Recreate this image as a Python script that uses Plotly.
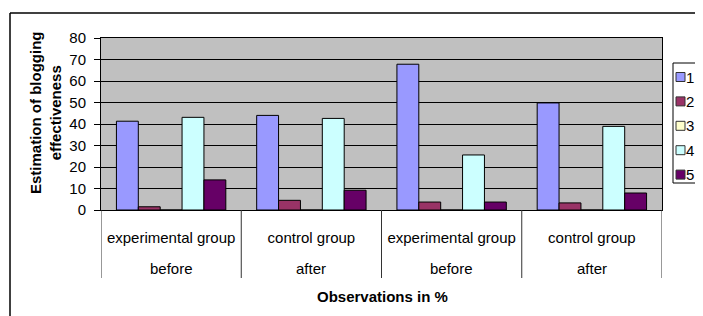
import plotly.graph_objects as go

# ---- data ----
groups = ["experimental group", "control group", "experimental group", "control group"]
phases = ["before", "after", "before", "after"]
series_names = ["1", "2", "3", "4", "5"]
s1 = [41.3, 44.0, 67.8, 49.8]
s2 = [1.5, 4.5, 3.7, 3.3]
s3 = [0, 0, 0, 0]
s4 = [43.1, 42.6, 25.6, 38.9]
s5 = [14.0, 9.2, 3.7, 7.9]
series_values = [s1, s2, s3, s4, s5]
colors = ["#9999FF", "#993366", "#FFFFCC", "#CCFFFF", "#660066"]

y_title = "Estimation of blogging<br>effectiveness"
x_title = "Observations in %"

OFF = 8  # page body margin in the browser
W, H = 703 - OFF, 316 - OFF
L, R, T, B = 101 - OFF, 662 - OFF, 38 - OFF, 210 - OFF  # plot area in figure pixels


def px(x):
    # x given in screenshot pixels
    return (x - OFF - L) / (R - L)


def py(y):
    # y given in screenshot pixels
    return (B - (y - OFF)) / (B - T)


FONT = "Liberation Sans, Arial, sans-serif"
xs = list(range(len(groups)))

fig = go.Figure()
for name, vals, col in zip(series_names, series_values, colors):
    fig.add_trace(go.Bar(
        x=xs, y=vals, name=name,
        marker=dict(color=col, line=dict(color="#000000", width=1)),
        showlegend=False,
    ))

shapes = []
# group dividers below the axis
for i in range(len(groups) + 1):
    shapes.append(dict(type="line", xref="x", yref="paper",
                       x0=i - 0.5, x1=i - 0.5, y0=0, y1=py(278),
                       line=dict(color="#333333", width=1)))
# outer chart border (top and left visible)
shapes.append(dict(type="line", xref="paper", yref="paper",
                   x0=px(10), x1=px(720), y0=py(13), y1=py(13),
                   line=dict(color="#000000", width=1.5)))
shapes.append(dict(type="line", xref="paper", yref="paper",
                   x0=px(10), x1=px(10), y0=py(13), y1=py(330),
                   line=dict(color="#000000", width=1.5)))
# legend box
shapes.append(dict(type="rect", xref="paper", yref="paper",
                   x0=px(673), x1=px(720), y0=py(63), y1=py(183),
                   line=dict(color="#000000", width=1), fillcolor="white"))

annotations = []
# second row of category labels
for i, ph in enumerate(phases):
    annotations.append(dict(x=i, y=py(268), xref="x", yref="paper",
                            text=ph, showarrow=False,
                            xanchor="center", yanchor="middle",
                            font=dict(family=FONT, size=15, color="black")))
# axis titles
annotations.append(dict(x=px(45), y=py(113), xref="paper", yref="paper",
                        text="<b>" + y_title + "</b>", textangle=-90,
                        showarrow=False, xanchor="center", yanchor="middle",
                        font=dict(family=FONT, size=15, color="black")))
annotations.append(dict(x=px(382), y=py(296), xref="paper", yref="paper",
                        text="<b>" + x_title + "</b>",
                        showarrow=False, xanchor="center", yanchor="middle",
                        font=dict(family=FONT, size=15, color="black")))
# legend entries
for k, (name, col) in enumerate(zip(series_names, colors)):
    cy = 77 + k * 24.4
    shapes.append(dict(type="rect", xref="paper", yref="paper",
                       x0=px(676), x1=px(685), y0=py(cy - 4.5), y1=py(cy + 4.5),
                       line=dict(color="#333333", width=1), fillcolor=col))
    annotations.append(dict(x=px(685), y=py(cy), xref="paper", yref="paper",
                            text=name, showarrow=False, borderpad=0,
                            xanchor="left", yanchor="middle",
                            font=dict(family=FONT, size=15, color="black")))

fig.update_layout(
    width=W, height=H,
    margin=dict(l=L, r=W - R, t=T, b=H - B, pad=0),
    paper_bgcolor="white",
    plot_bgcolor="#C0C0C0",
    barmode="group",
    bargap=0.22,
    bargroupgap=0,
    showlegend=False,
    font=dict(family=FONT, size=15, color="black"),
    shapes=shapes,
    annotations=annotations,
)
fig.update_xaxes(
    range=[-0.5, len(groups) - 0.5],
    tickvals=xs, ticktext=groups,
    ticks="", showgrid=False, zeroline=False,
    showline=True, linecolor="#000000", linewidth=1, mirror=True,
    tickfont=dict(family=FONT, size=15, color="black"),
    ticklabelstandoff=14,
)
fig.update_yaxes(
    range=[0, 80], dtick=10,
    showgrid=True, gridcolor="#000000", gridwidth=1,
    zeroline=False,
    showline=True, linecolor="#000000", linewidth=1, mirror=True,
    ticks="outside", ticklen=6, tickcolor="#000000",
    tickfont=dict(family=FONT, size=15, color="black"),
    ticklabelstandoff=5,
)

fig.write_html("out.html")
